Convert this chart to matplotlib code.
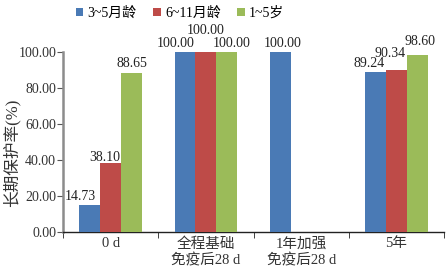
import numpy as np
import matplotlib
matplotlib.use('Agg')
import matplotlib.pyplot as plt
from matplotlib.patches import Patch

plt.rcParams['font.family'] = ['Liberation Serif', 'Noto Sans CJK SC']

categories = ['0 d', '全程基础\n免疫后28 d', '1年加强\n免疫后28 d', '5年']
series = ['3~5月龄', '6~11月龄', '1~5岁']
vals_3_5m = [14.73, 100.00, 100.00, 89.24]
vals_6_11m = [38.10, 100.00, np.nan, 90.34]
vals_1_5y = [88.65, 100.00, np.nan, 98.60]

colors = ['#4a7ab5', '#be4b48', '#9bbb59']
# label offsets in pixels (dx, dy) per series, per category
label_offsets = [
    [(-10, 9), (-9, 9), (2, 9), (-6, 8)],
    [(-6, 6), (0, 22), (0, 9), (-6, 16)],
    [(0, 9), (5, 9), (0, 9), (3, 13)],
]

fig = plt.figure(figsize=(4.48, 2.69), dpi=100)
ax = fig.add_axes([0.141, 0.138, 0.85, 0.668])

x = np.arange(len(categories))
width = 0.22
all_vals = [vals_3_5m, vals_6_11m, vals_1_5y]
for i, (vals, color) in enumerate(zip(all_vals, colors)):
    pos = x + (i - 1) * width
    ax.bar(pos, vals, width=width, color=color, zorder=3)
    for j, (p, v) in enumerate(zip(pos, vals)):
        if np.isnan(v):
            continue
        dx, dy = label_offsets[i][j]
        ax.annotate(f'{v:.2f}', (p, v), xytext=(dx, dy), textcoords='offset pixels',
                    ha='center', va='center', fontsize=10, color='#222222')

ax.set_xlim(-0.5, 3.5)
ax.set_ylim(0, 100)
ax.set_yticks(np.arange(0, 101, 20))
ax.set_yticklabels([f'{t:.2f}' for t in np.arange(0, 101, 20)], fontsize=10, color='#333333')
ax.set_xticks(x)
ax.set_xticklabels(categories, fontsize=10.5, color='#333333', linespacing=1.25)
ax.set_xticks(np.arange(-0.5, 3.6, 1), minor=True)
ax.tick_params(axis='x', which='major', length=0, pad=4)
ax.tick_params(axis='x', which='minor', length=4, direction='out', color='#222222')
ax.tick_params(axis='y', length=4, direction='out', color='#555555', pad=1)

ax.spines['top'].set_visible(False)
ax.spines['right'].set_visible(False)
ax.spines['left'].set_color('#8c8c8c')
ax.spines['left'].set_linewidth(1.8)
ax.spines['bottom'].set_color('#222222')
ax.spines['bottom'].set_linewidth(1.0)

ax.set_ylabel('长期保护率(%)', fontsize=12, color='#333333')
ax.yaxis.set_label_coords(-0.112, 0.44)

handles = [Patch(facecolor=c, label=s) for c, s in zip(colors, series)]
fig.legend(handles=handles, loc='center', bbox_to_anchor=(180 / 448, 1 - 13 / 269),
           ncol=3, frameon=False, fontsize=10, handlelength=0.55, handleheight=0.55,
           handletextpad=0.3, columnspacing=1.2)

fig.savefig('out.png', dpi=100)
